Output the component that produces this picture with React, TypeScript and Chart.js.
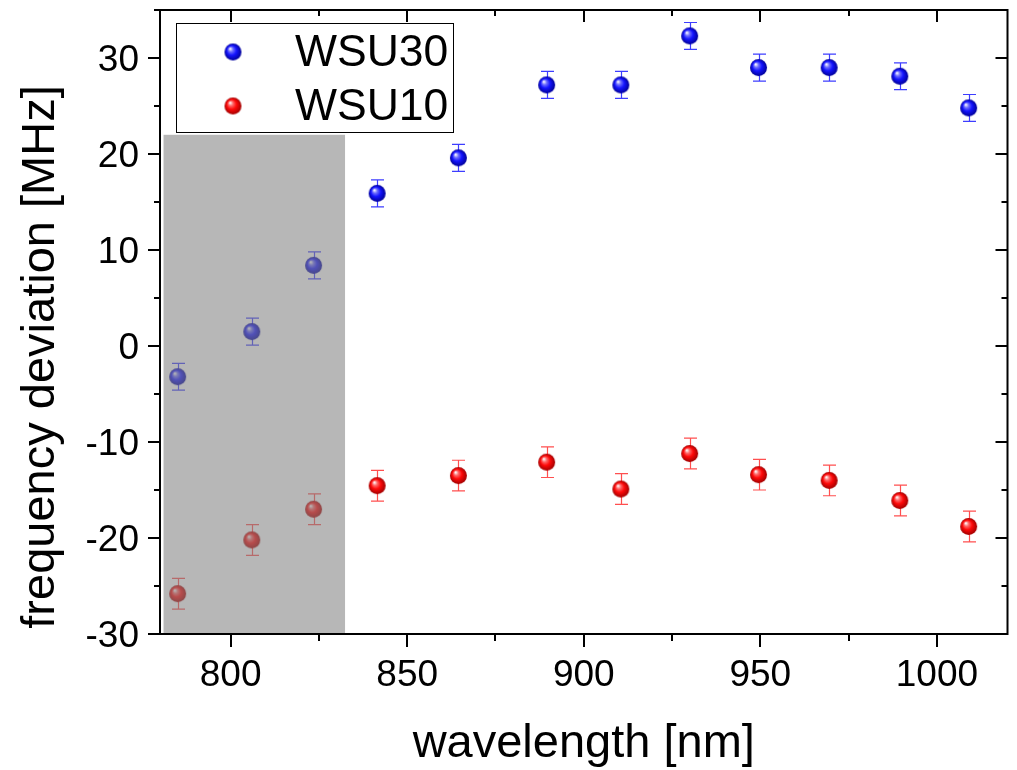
import React, { useEffect, useRef } from "react";
import { Chart, registerables } from "chart.js";

Chart.register(...registerables);

const wavelengths = [785, 806, 823.5, 841.5, 864.5, 889.5, 910.5, 930, 949.5, 969.5, 989.5, 1009];
const wsu30 = [-3.2, 1.5, 8.4, 15.9, 19.6, 27.2, 27.2, 32.3, 29.0, 29.0, 28.1, 24.8];
const wsu30Err = [1.4, 1.4, 1.4, 1.4, 1.4, 1.4, 1.4, 1.4, 1.4, 1.4, 1.4, 1.4];
const wsu10 = [-25.8, -20.2, -17.0, -14.55, -13.5, -12.1, -14.9, -11.2, -13.4, -14.0, -16.1, -18.8];
const wsu10Err = [1.6, 1.6, 1.6, 1.6, 1.6, 1.6, 1.6, 1.6, 1.6, 1.6, 1.6, 1.6];
const seriesNames = ["WSU30", "WSU10"];
const xTicks = [800, 850, 900, 950, 1000];
const yTicks = [-30, -20, -10, 0, 10, 20, 30];
const shadedRange = { xMin: 781, xMax: 832.4, yMin: -30, yMax: 22 };

const FONT = '"Liberation Sans", Arial, sans-serif';

function makeSphere(base: number[], dark: number[], r: number): HTMLCanvasElement {
  const c = document.createElement("canvas");
  const s = Math.ceil(r * 2 + 2);
  c.width = s;
  c.height = s;
  const g = c.getContext("2d")!;
  const cx = s / 2;
  const cy = s / 2;
  const grad = g.createRadialGradient(cx - r * 0.35, cy - r * 0.4, 0.3, cx, cy, r);
  grad.addColorStop(0, "rgb(255,255,255)");
  grad.addColorStop(0.25, `rgb(${Math.round(base[0] * 0.6 + 100)},${Math.round(base[1] * 0.6 + 100)},${Math.round(base[2] * 0.6 + 100)})`);
  grad.addColorStop(0.55, `rgb(${base[0]},${base[1]},${base[2]})`);
  grad.addColorStop(1, `rgb(${dark[0]},${dark[1]},${dark[2]})`);
  g.fillStyle = grad;
  g.beginPath();
  g.arc(cx, cy, r, 0, Math.PI * 2);
  g.fill();
  return c;
}

export default function App() {
  const ref = useRef<HTMLCanvasElement | null>(null);

  useEffect(() => {
    const canvas = ref.current;
    if (!canvas) return;
    const blueSphere = makeSphere([20, 20, 255], [0, 0, 150], 8.5);
    const redSphere = makeSphere([255, 10, 10], [160, 0, 0], 8.5);
    const spheres = [blueSphere, redSphere];
    const errs = [wsu30Err, wsu10Err];
    const errColors = ["rgba(40,40,255,0.9)", "rgba(255,60,60,0.9)"];

    const decor = {
      id: "decor",
      beforeDatasetsDraw(chart: any) {
        const ctx = chart.ctx;
        const xs = chart.scales.x;
        const ys = chart.scales.y;
        ctx.save();
        chart.data.datasets.forEach((ds: any, di: number) => {
          ctx.strokeStyle = errColors[di];
          ctx.lineWidth = 1.2;
          ds.data.forEach((p: any, i: number) => {
            const px = Math.round(xs.getPixelForValue(p.x)) + 0.5;
            const top = ys.getPixelForValue(p.y + errs[di][i]);
            const bot = ys.getPixelForValue(p.y - errs[di][i]);
            ctx.beginPath();
            ctx.moveTo(px, top);
            ctx.lineTo(px, bot);
            ctx.moveTo(px - 6.5, top);
            ctx.lineTo(px + 6.5, top);
            ctx.moveTo(px - 6.5, bot);
            ctx.lineTo(px + 6.5, bot);
            ctx.stroke();
          });
        });
        ctx.restore();
      },
      afterDatasetsDraw(chart: any) {
        const ctx = chart.ctx;
        const xs = chart.scales.x;
        const ys = chart.scales.y;
        const a = chart.chartArea;
        ctx.save();
        // shaded overlay
        const gx0 = xs.getPixelForValue(shadedRange.xMin);
        const gx1 = xs.getPixelForValue(shadedRange.xMax);
        const gy0 = ys.getPixelForValue(shadedRange.yMax);
        const gy1 = ys.getPixelForValue(shadedRange.yMin);
        ctx.fillStyle = "rgba(128,128,128,0.565)";
        ctx.fillRect(gx0, gy0, gx1 - gx0, gy1 - gy0);

        // frame
        ctx.strokeStyle = "#000";
        ctx.lineWidth = 2;
        ctx.strokeRect(a.left, a.top, a.right - a.left, a.bottom - a.top);

        // ticks
        ctx.lineWidth = 2;
        ctx.beginPath();
        for (let v = 800; v <= 1000; v += 25) {
          const major = v % 50 === 0;
          const px = Math.round(xs.getPixelForValue(v));
          const len = major ? 13 : 7;
          ctx.moveTo(px, a.bottom);
          ctx.lineTo(px, a.bottom + len);
          ctx.moveTo(px, a.top);
          ctx.lineTo(px, a.top + (major ? 12 : 6));
        }
        for (let v = -30; v <= 35; v += 5) {
          const major = v % 10 === 0;
          const py = Math.round(ys.getPixelForValue(v));
          ctx.moveTo(a.left, py);
          ctx.lineTo(a.left - (major ? 12 : 6), py);
          ctx.moveTo(a.right, py);
          ctx.lineTo(a.right - (major ? 12 : 6), py);
        }
        ctx.stroke();

        // tick labels
        ctx.fillStyle = "#000";
        ctx.font = `37px ${FONT}`;
        ctx.textAlign = "center";
        ctx.textBaseline = "alphabetic";
        xTicks.forEach((v) => {
          ctx.fillText(String(v), xs.getPixelForValue(v), 686);
        });
        ctx.textAlign = "right";
        yTicks.forEach((v) => {
          ctx.fillText(String(v), 139, ys.getPixelForValue(v) + 13);
        });

        // axis titles
        ctx.font = `47px ${FONT}`;
        ctx.textAlign = "center";
        ctx.fillText("wavelength [nm]", (a.left + a.right) / 2, 757);
        ctx.save();
        ctx.translate(54, 357);
        ctx.rotate(-Math.PI / 2);
        ctx.fillText("frequency deviation [MHz]", 0, 0);
        ctx.restore();

        // legend
        ctx.fillStyle = "#fff";
        ctx.fillRect(176, 23, 277, 109);
        ctx.strokeStyle = "#000";
        ctx.lineWidth = 1;
        ctx.strokeRect(176.5, 23.5, 277, 109);
        ctx.fillStyle = "#000";
        ctx.font = `44.5px ${FONT}`;
        ctx.textAlign = "left";
        const rows = [52, 106];
        seriesNames.forEach((name, i) => {
          const sp = spheres[i];
          ctx.drawImage(sp, 233 - sp.width / 2, rows[i] - sp.height / 2);
          ctx.fillText(name, 295, rows[i] + 14);
        });
        ctx.restore();
      },
    };

    const chart = new Chart(canvas, {
      type: "scatter",
      data: {
        datasets: [
          {
            label: seriesNames[0],
            data: wavelengths.map((x, i) => ({ x, y: wsu30[i] })),
            pointStyle: blueSphere as any,
            pointRadius: 8.5,
            backgroundColor: "blue",
            borderColor: "blue",
          },
          {
            label: seriesNames[1],
            data: wavelengths.map((x, i) => ({ x, y: wsu10[i] })),
            pointStyle: redSphere as any,
            pointRadius: 8.5,
            backgroundColor: "red",
            borderColor: "red",
          },
        ],
      },
      options: {
        responsive: false,
        animation: false,
        layout: { padding: { left: 160, right: 5, top: 10, bottom: 136 } },
        plugins: { legend: { display: false }, tooltip: { enabled: false } },
        scales: {
          x: { type: "linear", min: 780, max: 1020, display: false },
          y: { type: "linear", min: -30, max: 35, display: false },
        },
      },
      plugins: [decor],
    });
    return () => chart.destroy();
  }, []);

  return (
    <div style={{ position: "fixed", left: 0, top: 0, width: 1017, height: 770, background: "#fff" }}>
      <canvas ref={ref} width={1017} height={770} style={{ width: 1017, height: 770, display: "block" }} />
    </div>
  );
}
